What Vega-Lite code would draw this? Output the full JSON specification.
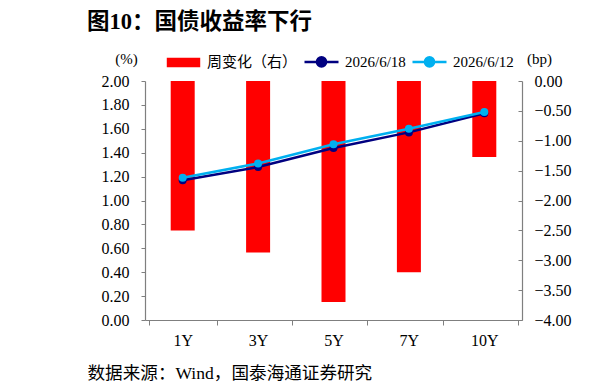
{
  "$schema": "https://vega.github.io/schema/vega-lite/v6.json",
  "width": 377,
  "height": 239,
  "autosize": {"type": "none"},
  "padding": {"left": 145, "top": 81, "right": 90, "bottom": 72},
  "background": "white",
  "title": {
    "text": "图10：国债收益率下行",
    "anchor": "start",
    "frame": "group",
    "orient": "top",
    "dx": -58,
    "offset": 10,
    "font": "Liberation Serif, Noto Sans CJK SC",
    "fontSize": 22.5,
    "fontWeight": "bold",
    "color": "black"
  },
  "data": {
    "values": [
      {"tenor": "1Y", "series": "周变化（右）", "value": -2.5},
      {"tenor": "3Y", "series": "周变化（右）", "value": -2.87},
      {"tenor": "5Y", "series": "周变化（右）", "value": -3.7},
      {"tenor": "7Y", "series": "周变化（右）", "value": -3.2},
      {"tenor": "10Y", "series": "周变化（右）", "value": -1.27},
      {"tenor": "1Y", "series": "2026/6/18", "value": 1.17},
      {"tenor": "3Y", "series": "2026/6/18", "value": 1.28},
      {"tenor": "5Y", "series": "2026/6/18", "value": 1.44},
      {"tenor": "7Y", "series": "2026/6/18", "value": 1.57},
      {"tenor": "10Y", "series": "2026/6/18", "value": 1.73},
      {"tenor": "1Y", "series": "2026/6/12", "value": 1.19},
      {"tenor": "3Y", "series": "2026/6/12", "value": 1.31},
      {"tenor": "5Y", "series": "2026/6/12", "value": 1.47},
      {"tenor": "7Y", "series": "2026/6/12", "value": 1.6},
      {"tenor": "10Y", "series": "2026/6/12", "value": 1.74}
    ]
  },
  "encoding": {
    "x": {
      "field": "tenor",
      "type": "nominal",
      "sort": ["1Y", "3Y", "5Y", "7Y", "10Y"],
      "axis": {
        "title": "数据来源：Wind，国泰海通证券研究",
        "titleX": -58,
        "titleY": 53,
        "titleAlign": "left",
        "titleBaseline": "middle",
        "titleFontSize": 17.6,
        "labelAngle": 0,
        "tickBand": "extent",
        "tickSize": 5,
        "labelPadding": 7
      }
    }
  },
  "layer": [
    {
      "transform": [{"filter": "datum.series === '周变化（右）'"}],
      "mark": {"type": "bar", "size": 24, "color": "#FF0000"},
      "encoding": {
        "y": {
          "field": "value",
          "type": "quantitative",
          "scale": {"domain": [-4, 0], "nice": false},
          "axis": {
            "orient": "right",
            "values": [-4, -3.5, -3, -2.5, -2, -1.5, -1, -0.5, 0],
            "format": ".2f",
            "title": "(bp)",
            "titleAngle": 0,
            "titleX": 17,
            "titleY": -23,
            "titleAlign": "center",
            "titleBaseline": "middle",
            "tickSize": -4,
            "labelPadding": 16
          }
        },
        "color": {
          "field": "series",
          "type": "nominal",
          "scale": {
            "domain": ["周变化（右）", "2026/6/18", "2026/6/12"],
            "range": ["#FF0000", "#000080", "#00B0F0"]
          },
          "legend": {
            "title": null,
            "orient": "none",
            "direction": "horizontal",
            "legendX": 20,
            "legendY": -38,
            "symbolSize": 1156,
            "labelOffset": 5,
            "columnPadding": 1,
            "labelFont": "Liberation Serif, Noto Sans CJK SC",
            "labelFontSize": 15,
            "labelColor": "black",
            "encode": {
              "symbols": {
                "update": {
                  "shape": {"signal": "datum.value === '周变化（右）' ? 'M-0.91,-0.21L0.91,-0.21L0.91,0.21L-0.91,0.21Z' : 'M-1,0L1,0M-0.27,0A0.27,0.27 0 1,0 0.27,0A0.27,0.27 0 1,0 -0.27,0Z'"},
                  "fill": {"scale": "color", "field": "value"},
                  "stroke": {"signal": "datum.value === '周变化（右）' ? 'transparent' : scale('color', datum.value)"},
                  "strokeWidth": {"value": 2.5},
                  "opacity": {"value": 1},
                  "fillOpacity": {"value": 1}
                }
              }
            }
          }
        }
      }
    },
    {
      "encoding": {
        "y": {
          "field": "value",
          "type": "quantitative",
          "scale": {"domain": [0, 2], "nice": false},
          "axis": {
            "orient": "left",
            "values": [0, 0.2, 0.4, 0.6, 0.8, 1, 1.2, 1.4, 1.6, 1.8, 2],
            "format": ".2f",
            "title": "(%)",
            "titleAngle": 0,
            "titleX": -19,
            "titleY": -23,
            "titleAlign": "center",
            "titleBaseline": "middle",
            "tickSize": 4,
            "labelPadding": 12
          }
        },
        "color": {"field": "series", "type": "nominal"}
      },
      "layer": [
        {
          "transform": [{"filter": "datum.series === '2026/6/18'"}],
          "mark": {"type": "line", "strokeWidth": 2.5, "point": {"filled": true, "size": 64}}
        },
        {
          "transform": [{"filter": "datum.series === '2026/6/12'"}],
          "mark": {"type": "line", "strokeWidth": 2.5, "point": {"filled": true, "size": 64}}
        }
      ]
    }
  ],
  "resolve": {"scale": {"y": "independent"}},
  "config": {
    "view": {"stroke": null},
    "axis": {
      "grid": false,
      "domainColor": "#7F7F7F",
      "tickColor": "#7F7F7F",
      "domainWidth": 1.2,
      "labelColor": "black",
      "labelFont": "Liberation Serif",
      "labelFontSize": 16,
      "titleFont": "Liberation Serif, Noto Sans CJK SC",
      "titleFontSize": 15,
      "titleFontWeight": "normal",
      "titleColor": "black"
    }
  }
}
